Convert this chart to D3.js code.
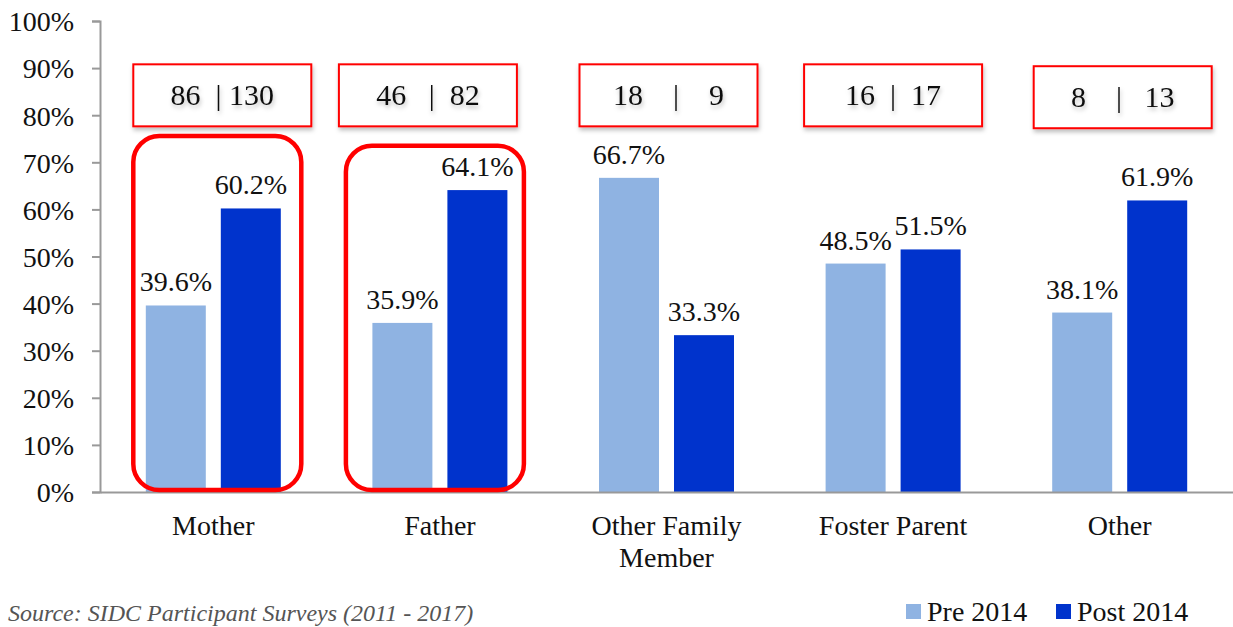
<!DOCTYPE html>
<html>
<head>
<meta charset="utf-8">
<script src="https://cdn.jsdelivr.net/npm/d3@7"></script>
<style>
  body { margin: 0; background: #fff; }
  svg text { font-family: "Liberation Serif", "DejaVu Serif", serif; fill: #111; }
</style>
</head>
<body>
<svg id="chart" width="1233" height="627"></svg>
<script>
// data
const categories = ["Mother", "Father", "Other Family Member", "Foster Parent", "Other"];
const pre2014 = [39.6, 35.9, 66.7, 48.5, 38.1];
const post2014 = [60.2, 64.1, 33.3, 51.5, 61.9];
const countText = ["86  | 130", "46   |  82", "18    |    9", "16  |  17", "8    |   13"];
const yTicks = [0, 10, 20, 30, 40, 50, 60, 70, 80, 90, 100];

const svg = d3.select("#chart");

const x = d3.scaleBand().domain(categories).range([100, 1233]);
const y = d3.scaleLinear().domain([0, 100]).range([492, 21]);
const barW = 60, gap = 15;
const fs = "28px";

// soft shadow for the count boxes
const defs = svg.append("defs");
const f = defs.append("filter").attr("id", "shadow").attr("x", "-10%").attr("y", "-10%")
  .attr("width", "130%").attr("height", "140%");
f.append("feDropShadow").attr("dx", 1).attr("dy", 3).attr("stdDeviation", 2)
  .attr("flood-color", "#000").attr("flood-opacity", 0.25);

// y axis
const yAxis = svg.append("g")
  .attr("transform", "translate(100,0)")
  .call(d3.axisLeft(y).tickValues(yTicks).tickFormat(d => d + "%").tickSize(8).tickPadding(18));
yAxis.select(".domain").attr("stroke", "#999").attr("stroke-width", 2);
yAxis.selectAll(".tick line").attr("stroke", "#999").attr("stroke-width", 2);
yAxis.selectAll("text").style("font-size", fs).attr("dy", "0.35em");

// bars
const cx = c => x(c) + x.bandwidth() / 2;
const g = svg.append("g");
categories.forEach((c, i) => {
  g.append("rect")
    .attr("x", cx(c) - gap / 2 - barW).attr("y", y(pre2014[i]))
    .attr("width", barW).attr("height", y(0) - y(pre2014[i]))
    .attr("fill", "#8fb3e2");
  g.append("rect")
    .attr("x", cx(c) + gap / 2).attr("y", y(post2014[i]))
    .attr("width", barW).attr("height", y(0) - y(post2014[i]))
    .attr("fill", "#0033cc");
  g.append("text")
    .attr("x", cx(c) - gap / 2 - barW / 2).attr("y", y(pre2014[i]) - 14)
    .attr("text-anchor", "middle").style("font-size", fs)
    .text(pre2014[i].toFixed(1) + "%");
  g.append("text")
    .attr("x", cx(c) + gap / 2 + barW / 2).attr("y", y(post2014[i]) - 14)
    .attr("text-anchor", "middle").style("font-size", fs)
    .text(post2014[i].toFixed(1) + "%");
});

// x axis
const xAxis = svg.append("g").attr("transform", "translate(0,492)")
  .call(d3.axisBottom(x).tickSize(0).tickFormat(""));
xAxis.select(".domain").attr("stroke", "#999").attr("stroke-width", 2);

categories.forEach(c => {
  const words = c === "Other Family Member" ? ["Other Family", "Member"] : [c];
  const t = svg.append("text").attr("x", cx(c)).attr("y", 535)
    .attr("text-anchor", "middle").style("font-size", fs);
  words.forEach((w, k) => t.append("tspan").attr("x", cx(c)).attr("dy", k ? 32 : 0).text(w));
});

// count boxes (hand-placed annotations, slightly off-centre like the original)
const boxShift = [9, -12, 2, 0, 3];
categories.forEach((c, i) => {
  const top = i === 4 ? y(90.4) : y(90.8);
  const h = 62, w = 178;
  const bx = cx(c) + boxShift[i] - w / 2;
  svg.append("rect")
    .attr("x", bx).attr("y", top).attr("width", w).attr("height", h)
    .attr("fill", "#fff").attr("stroke", "#ff0000").attr("stroke-width", 2)
    .attr("filter", "url(#shadow)");
  svg.append("text")
    .attr("x", bx + w / 2).attr("y", top + h / 2 + 10)
    .attr("text-anchor", "middle").style("font-size", "30px")
    .attr("xml:space", "preserve")
    .attr("filter", "url(#shadow)")
    .text(countText[i]);
});

// highlight rings around Mother and Father
const hl = [{ c: "Mother", top: 75.6, l: 80, r: 88 }, { c: "Father", top: 73.5, l: 94, r: 84 }];
hl.forEach(d => {
  svg.append("rect")
    .attr("x", cx(d.c) - d.l).attr("y", y(d.top))
    .attr("width", d.l + d.r).attr("height", y(0.4) - y(d.top))
    .attr("rx", 26).attr("ry", 26)
    .attr("fill", "none").attr("stroke", "#ff0000").attr("stroke-width", 4.5);
});

// legend
const legend = [{ name: "Pre 2014", color: "#8fb3e2", x: 906 }, { name: "Post 2014", color: "#0033cc", x: 1056 }];
legend.forEach(d => {
  svg.append("rect").attr("x", d.x).attr("y", 604).attr("width", 15).attr("height", 15).attr("fill", d.color);
  svg.append("text").attr("x", d.x + 21).attr("y", 621).style("font-size", fs).text(d.name);
});

// source line at the very bottom
svg.append("text").attr("x", 8).attr("y", 621)
  .style("font-size", "24px").style("font-style", "italic").style("fill", "#555")
  .text("Source: SIDC Participant Surveys (2011 - 2017)");
</script>
</body>
</html>
